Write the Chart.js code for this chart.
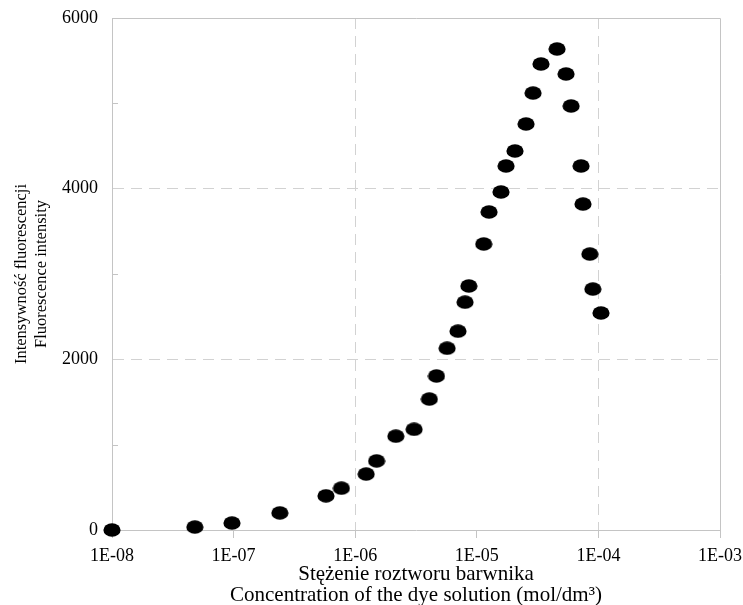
<!DOCTYPE html>
<html>
<head>
<meta charset="utf-8">
<script src="https://cdn.jsdelivr.net/npm/chart.js@4.4.1/dist/chart.umd.min.js"></script>
<style>
  html, body { margin: 0; padding: 0; background: #ffffff; }
  #wrap { width: 743px; height: 605px; position: relative; }
</style>
</head>
<body>
<div id="wrap"><canvas id="c" width="743" height="605"></canvas></div>
<script>
// ---- data ----
const concentration = [1e-8, 4.8e-8, 9.7e-8, 2.4e-7, 5.75e-7, 7.7e-7, 1.23e-6, 1.5e-6, 2.16e-6, 3.05e-6,
  4.07e-6, 4.66e-6, 5.7e-6, 7.0e-6, 8.0e-6, 8.6e-6, 1.14e-5, 1.26e-5, 1.58e-5, 1.74e-5,
  2.06e-5, 2.54e-5, 2.9e-5, 3.37e-5, 4.57e-5, 5.42e-5, 5.96e-5, 7.2e-5, 7.47e-5, 8.5e-5,
  9.0e-5, 1.05e-4];
const intensity = [0, 35, 82, 200, 400, 490, 656, 810, 1100, 1180,
  1535, 1805, 2130, 2330, 2670, 2860, 3352, 3727, 3961, 4266,
  4442, 4758, 5121, 5461, 5637, 5344, 4969, 4266, 3820, 3234,
  2824, 2543];

const xTickValues = [1e-8, 1e-7, 1e-6, 1e-5, 1e-4, 1e-3];
const xTickLabels = ['1E-08', '1E-07', '1E-06', '1E-05', '1E-04', '1E-03'];
const xGridValues = [1e-6, 1e-4];
const yLabelValues = [0, 2000, 4000, 6000];
const yGridValues = [2000, 4000];
const yMinorTickValues = [1000, 3000, 5000];
const yTitle = ['Intensywność fluorescencji', 'Fluorescence intensity'];
const xTitle = ['Stężenie roztworu barwnika', 'Concentration of the dye solution (mol/dm³)'];

// ---- styling ----
const FONT = '"Liberation Serif", "Times New Roman", serif';
const AXIS_GRAY = '#c4c4c4';
const GRID_GRAY = '#d2d2d2';
const DASH = [11, 7];

// elliptical marker like the reference
const marker = document.createElement('canvas');
marker.width = 18; marker.height = 14;
(function () {
  const m = marker.getContext('2d');
  m.fillStyle = '#000000';
  m.beginPath();
  m.ellipse(9, 7, 8.6, 6.8, 0, 0, Math.PI * 2);
  m.closePath();
  m.fill();
})();

const points = concentration.map((c, i) => ({ x: c, y: intensity[i] }));

const framePlugin = {
  id: 'frame',
  afterDraw(chart) {
    const { ctx, chartArea: a, scales } = chart;
    ctx.save();
    ctx.strokeStyle = AXIS_GRAY;
    ctx.lineWidth = 1;
    ctx.setLineDash([]);
    ctx.beginPath();
    ctx.moveTo(a.left, Math.round(a.top) + 0.5);
    ctx.lineTo(Math.round(a.right) + 0.5, Math.round(a.top) + 0.5);
    ctx.lineTo(Math.round(a.right) + 0.5, a.bottom);
    // inward minor ticks on the y axis
    yMinorTickValues.forEach(v => {
      const y = Math.round(scales.y.getPixelForValue(v)) + 0.5;
      ctx.moveTo(a.left, y);
      ctx.lineTo(a.left + 6, y);
    });
    ctx.stroke();
    ctx.restore();
  }
};

new Chart(document.getElementById('c'), {
  type: 'scatter',
  data: {
    datasets: [{
      data: points,
      pointStyle: marker,
      pointRadius: 8,
      pointHoverRadius: 8,
      clip: false,
      showLine: false
    }]
  },
  options: {
    responsive: false,
    animation: false,
    events: [],
    layout: { padding: { left: 12, top: 18, right: 23, bottom: 0 } },
    plugins: { legend: { display: false }, tooltip: { enabled: false } },
    scales: {
      x: {
        type: 'logarithmic',
        min: 1e-8,
        max: 1e-3,
        afterBuildTicks: s => { s.ticks = xTickValues.map(v => ({ value: v })); },
        afterFit: s => { s.height = 75; s.paddingLeft = 0; s.paddingRight = 0; },
        ticks: {
          autoSkip: false,
          maxRotation: 0,
          padding: 7,
          color: '#000',
          font: { family: FONT, size: 18 },
          callback: (v, i) => xTickLabels[i]
        },
        grid: {
          color: c => (c.tick && xGridValues.includes(c.tick.value)) ? GRID_GRAY : 'rgba(0,0,0,0)',
          drawTicks: true,
          tickLength: 8,
          tickColor: AXIS_GRAY,
          tickBorderDash: []
        },
        border: { display: true, color: AXIS_GRAY, dash: DASH },
        title: {
          display: true,
          text: xTitle,
          color: '#000',
          font: { family: FONT, size: 21, lineHeight: 1.0 },
          padding: { top: 0, bottom: -1 }
        }
      },
      y: {
        type: 'linear',
        min: 0,
        max: 6000,
        afterFit: s => { s.width = 100; s.paddingTop = 0; s.paddingBottom = 0; },
        ticks: {
          stepSize: 1000,
          padding: 14,
          color: '#000',
          font: { family: FONT, size: 18 },
          callback: v => yLabelValues.includes(v) ? String(v) : ''
        },
        grid: {
          color: c => (c.tick && yGridValues.includes(c.tick.value)) ? GRID_GRAY : 'rgba(0,0,0,0)',
          drawTicks: false
        },
        border: { display: true, color: AXIS_GRAY, dash: DASH },
        title: {
          display: true,
          text: yTitle,
          color: '#000',
          font: { family: FONT, size: 16.5, lineHeight: 1.18 },
          padding: { top: 0, bottom: 0 }
        }
      }
    }
  },
  plugins: [framePlugin]
});
</script>
</body>
</html>
